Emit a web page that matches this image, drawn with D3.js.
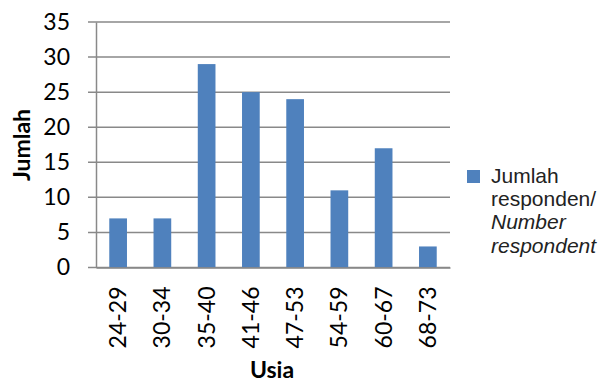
<!DOCTYPE html>
<html><head><meta charset="utf-8">
<script src="https://cdn.jsdelivr.net/npm/d3@7"></script>
<style>body{margin:0;background:#fff}svg{display:block}</style>
</head><body>
<script>
const categories = ["24-29","30-34","35-40","41-46","47-53","54-59","60-67","68-73"];
const values = [7,7,29,25,24,11,17,3];
const yTicks = [0,5,10,15,20,25,30,35];
const seriesName = ["Jumlah","responden/","Number","respondent"];

(function(){
const W=601,H=383;
const svg=d3.select("body").append("svg").attr("width",W).attr("height",H);
const mL=96,mR=450,mT=22,mB=267.5;
const x=d3.scaleBand().domain(categories).range([mL,mR]).paddingInner(0.6).paddingOuter(0.3);
const y=d3.scaleLinear().domain([0,35]).range([mB,mT]);
const tickFont="Lato, 'Open Sans', sans-serif";

// gridlines
svg.append("g").selectAll("line").data(yTicks).join("line")
  .attr("x1",88).attr("x2",mR).attr("y1",d=>y(d)).attr("y2",d=>y(d))
  .attr("stroke","#898989").attr("stroke-width",1.5);

// y axis
const ya=svg.append("g").attr("transform",`translate(${mL},0)`)
  .call(d3.axisLeft(y).tickValues(yTicks).tickSize(0).tickPadding(26));
ya.select(".domain").attr("stroke","#898989").attr("stroke-width",1.5);
ya.selectAll("text").attr("font-family",tickFont).attr("font-size",23).attr("fill","#000");

// bars
svg.append("g").selectAll("rect").data(values).join("rect")
  .attr("x",(d,i)=>x(categories[i])).attr("width",x.bandwidth())
  .attr("y",d=>y(d)).attr("height",d=>y(0)-y(d))
  .attr("fill","#4F81BD");

// x axis
const xa=svg.append("g").attr("transform",`translate(0,${mB})`)
  .call(d3.axisBottom(x).tickSize(0).tickPadding(0));
xa.select(".domain").attr("stroke","#898989").attr("stroke-width",1.5);
xa.selectAll("text").attr("font-family",tickFont).attr("font-size",23).attr("fill","#000")
  .attr("transform","rotate(-90)").attr("text-anchor","end").attr("dy","0.35em")
  .attr("x",-19).attr("y",0);

// axis titles
svg.append("text").attr("x",272).attr("y",378).attr("text-anchor","middle")
  .attr("font-family",tickFont).attr("font-weight","bold").attr("font-size",23).text("Usia");
svg.append("text").attr("transform","translate(30,145) rotate(-90)").attr("text-anchor","middle")
  .attr("font-family",tickFont).attr("font-weight","bold").attr("font-size",23).text("Jumlah");

// legend
svg.append("rect").attr("x",467).attr("y",170).attr("width",13).attr("height",13).attr("fill","#4F81BD");
const lt=svg.append("text").attr("font-family","'Liberation Sans', Arial, sans-serif").attr("font-size",21).attr("fill","#222");
seriesName.forEach((s,i)=>{
  lt.append("tspan").attr("x",491).attr("y",183+i*23.2).attr("font-style",i>=2?"italic":"normal").text(s);
});
})();
</script>
</body></html>
